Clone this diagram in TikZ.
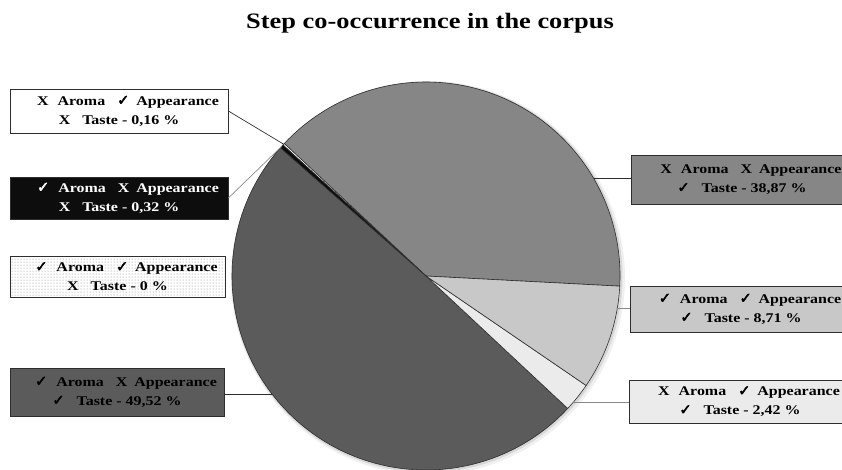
\documentclass[tikz,border=0pt]{standalone}
\usepackage{fontspec}
\setmainfont[FakeStretch=1.2]{Liberation Serif}
\newfontfamily\chkfont[FakeBold=3]{DejaVu Sans}
\usepackage{tikz}
\usetikzlibrary{patterns,calc,positioning}

\definecolor{slicemid}{HTML}{868686}
\definecolor{slicedark}{HTML}{5B5B5B}
\definecolor{slicelight}{HTML}{C8C8C8}
\definecolor{slicepale}{HTML}{EBEBEB}
\definecolor{slicenight}{HTML}{0D0D0D}
\definecolor{rimgray}{HTML}{2E2E2E}
\definecolor{leadgray}{HTML}{8A8A8A}

\newcommand{\ok}{{\chkfont\fontsize{14.5}{14.5}\selectfont ✓}}
\newcommand{\steps}[4]{\hspace*{18pt}#1\hspace{9pt}Aroma\hspace{12pt}#2\hspace{7pt}Appearance\\#3\hspace{12pt}Taste - #4~\%}

\begin{document}
\begin{tikzpicture}[x=1pt,y=1pt,
  legend/.style={draw=rimgray, line width=0.8pt, align=center, inner sep=0pt,
    font=\bfseries\fontsize{13.3}{19}\selectfont},
  leader/.style={draw=rimgray, line width=0.7pt},
  wedge/.style={draw=rimgray, line width=0.6pt}]

\useasboundingbox (0,0) rectangle (842,469);

\node[font=\bfseries\fontsize{22}{26}\selectfont, anchor=base] (title) at (430,440) {Step co-occurrence in the corpus};

% pie, with its soft shadow
\coordinate (C) at (426,193);
\fill[black,opacity=0.06] ($(C)+(2,-2)$) circle (197);
\fill[black,opacity=0.10] ($(C)+(1,-1)$) circle (195.5);

\filldraw[wedge, fill=slicemid]   (C) -- ++(-3:194)     arc[start angle=-3,     end angle=136.93, radius=194] -- cycle;
\filldraw[wedge, fill=white]      (C) -- ++(136.93:194) arc[start angle=136.93, end angle=137.51, radius=194] -- cycle;
\filldraw[wedge, fill=slicenight] (C) -- ++(137.51:194) arc[start angle=137.51, end angle=138.66, radius=194] -- cycle;
\filldraw[wedge, fill=slicedark]  (C) -- ++(138.66:194) arc[start angle=138.66, end angle=316.93, radius=194] -- cycle;
\filldraw[wedge, fill=slicepale]  (C) -- ++(316.93:194) arc[start angle=316.93, end angle=325.64, radius=194] -- cycle;
\filldraw[wedge, fill=slicelight] (C) -- ++(325.64:194) arc[start angle=325.64, end angle=357,    radius=194] -- cycle;

\coordinate (p3887) at ($(C)+(30.3:194)$);
\coordinate (p016)  at ($(C)+(137.2:194)$);
\coordinate (p032)  at ($(C)+(138.1:194)$);
\coordinate (p4952) at ($(C)+(217.5:194)$);
\coordinate (p242)  at ($(C)+(-40.5:194)$);
\coordinate (p871)  at ($(C)+(-9.5:194)$);

% labels on the left
\node[legend, fill=white, minimum width=218pt, minimum height=44pt] (b016) at (119,358) {\steps{X}{\ok}{X}{0,16}};
\node[legend, fill=slicenight, text=white, minimum width=218pt, minimum height=42pt] (b032) at (119,271) {\steps{\ok}{X}{X}{0,32}};
\node[legend, pattern=dots, pattern color=gray, minimum width=215pt, minimum height=41pt] (b0) at (117.5,192.5) {\steps{\ok}{\ok}{X}{0}};
\node[legend, fill=slicedark, minimum width=214pt, minimum height=48pt] (b4952) at (117,77) {\steps{\ok}{X}{\ok}{49,52}};

% labels on the right
\node[legend, fill=slicemid, minimum width=222pt, minimum height=49pt] (b3887) at (742,289.5) {\steps{X}{X}{\ok}{38,87}};
\node[legend, fill=slicelight, minimum width=222pt, minimum height=46pt] (b871) at (741,160) {\steps{\ok}{\ok}{\ok}{8,71}};
\node[legend, fill=slicepale, minimum width=222pt, minimum height=43pt] (b242) at (740,67.5) {\steps{X}{\ok}{\ok}{2,42}};

% leader lines
\draw[leader] (b016.east) -- (p016);
\draw[leader, draw=leadgray] (b032.east) -- (p032);
\draw[leader] (p4952) -- (p4952 -| b4952.east);
\draw[leader] (p3887) -- (p3887 -| b3887.west);
\draw[leader, draw=leadgray] (p871) -- (p871 -| b871.west);
\draw[leader, draw=leadgray] (p242) -- (p242 -| b242.west);

\end{tikzpicture}
\end{document}
